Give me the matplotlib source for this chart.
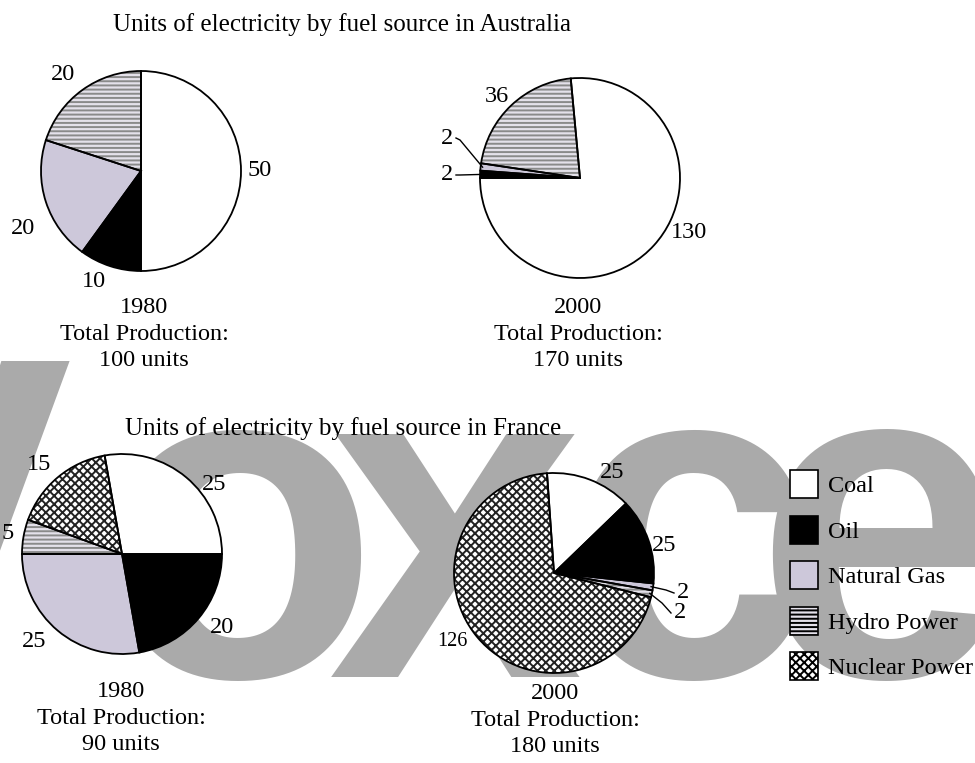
import numpy as np
import matplotlib
matplotlib.use('Agg')
import matplotlib.pyplot as plt
from matplotlib.patches import Patch

plt.rcParams['font.family'] = ['Liberation Serif', 'DejaVu Serif']
plt.rcParams['hatch.linewidth'] = 1.4

# data
sources = ['Coal', 'Oil', 'Natural Gas', 'Hydro Power', 'Nuclear Power']
aus_1980 = [50, 10, 20, 20]
aus_2000 = [130, 2, 2, 36]
fra_1980 = [25, 20, 25, 5, 15]
fra_2000 = [25, 25, 2, 2, 126]
years = ['1980', '2000']

# styles per source
faces = ['white', 'black', '#cdc8da', '#e4e1ea', 'white']
hatch_cols = ['black', 'black', '#cdc8da', '#8a8a8a', '#222222']
hatches = [None, None, None, '----', 'xxxx']

W, H = 975, 763
fig = plt.figure(figsize=(W / 100, H / 100), dpi=100)
fig.patch.set_facecolor('white')


def px(x, y):
    return x / W, 1 - y / H


# watermark, one letter at a time
for ch, x in zip('Voxce', [-80, 238, 455, 688, 882]):
    fig.text(*px(x, 677), ch, fontsize=330, color='#aaaaaa',
             family=['Liberation Sans', 'DejaVu Sans'], weight='bold',
             va='baseline', ha='center', zorder=-1)


def draw_pie(cx, cy, values, start, shifts, fs=17.5, skip=()):
    ax = fig.add_axes([(cx - 150) / W, (H - cy - 150) / H, 300 / W, 300 / H])
    n = len(values)
    w1, _ = ax.pie(values, colors=faces[:n], hatch=hatches[:n], startangle=start,
                   counterclock=False, wedgeprops=dict(linewidth=0))
    for w, hc in zip(w1, hatch_cols):
        w.set_edgecolor(hc)
        w.set_linewidth(0)
    w2, _ = ax.pie(values, colors=['none'] * n, startangle=start, counterclock=False,
                   wedgeprops=dict(linewidth=1.3, edgecolor='black'))
    ax.set_xlim(-1.5, 1.5)
    ax.set_ylim(-1.5, 1.5)
    ax.set_aspect('equal')
    ax.axis('off')
    ax.patch.set_visible(False)
    for i, (w, v) in enumerate(zip(w2, values)):
        if i in skip:
            continue
        da, dist = shifts[i]
        a = np.deg2rad((w.theta1 + w.theta2) / 2 + da)
        ax.text(dist * np.cos(a), dist * np.sin(a), str(v), ha='center', va='center',
                fontsize=fs, clip_on=False)
    return ax, w2


def leader(ax, w, text, label_xy, mid_xy, fs=17.5):
    a = np.deg2rad((w.theta1 + w.theta2) / 2)
    ex, ey = 0.98 * np.cos(a), 0.98 * np.sin(a)
    lx, ly = label_xy
    side = 1 if lx > 0 else -1
    ax.plot([ex, mid_xy[0], lx - side * 0.09], [ey, mid_xy[1], ly], color='black',
            lw=1.0, clip_on=False)
    ax.text(lx, ly, text, ha='center', va='center', fontsize=fs, clip_on=False)


# Australia
fig.text(*px(342, 25), 'Units of electricity by fuel source in Australia',
         ha='center', va='center', fontsize=18)
ax, w = draw_pie(141, 171, aus_1980, 90,
                 [(0, 1.19), (-5, 1.2), (8, 1.31), (3, 1.24)])
ax, w = draw_pie(580, 178, aus_2000, 95.3,
                 [(16, 1.22), (0, 0), (0, 0), (2, 1.16)], skip=(1, 2))
leader(ax, w[2], str(aus_2000[2]), (-1.33, 0.40), (-1.2, 0.38))
leader(ax, w[1], str(aus_2000[1]), (-1.33, 0.03), (-1.2, 0.03))

# France
fig.text(*px(343, 429), 'Units of electricity by fuel source in France',
         ha='center', va='center', fontsize=18)
ax, w = draw_pie(122, 554, fra_1980, 100,
                 [(-13, 1.15), (3.5, 1.24), (-5, 1.24), (0, 1.16), (3, 1.22)])
ax, w = draw_pie(554, 573, fra_2000, 94,
                 [(-9, 1.16), (-5, 1.14), (0, 0), (0, 0), (-6, 1.23)], skip=(2, 3, 4))
a = np.deg2rad((w[4].theta1 + w[4].theta2) / 2 - 6)
ax.text(1.23 * np.cos(a), 1.23 * np.sin(a), str(fra_2000[4]), ha='center', va='center',
        fontsize=14.5)
leader(ax, w[2], str(fra_2000[2]), (1.29, -0.20), (1.12, -0.17))
leader(ax, w[3], str(fra_2000[3]), (1.26, -0.40), (1.08, -0.30))

# captions
for (cx, cy), year, vals in [((144, 334), years[0], aus_1980), ((578, 334), years[1], aus_2000),
                             ((121, 718), years[0], fra_1980), ((555, 720), years[1], fra_2000)]:
    fig.text(*px(cx, cy), f'{year}\nTotal Production:\n{sum(vals)} units',
             ha='center', va='center', fontsize=17.5, linespacing=1.35)

# legend
handles = [Patch(facecolor=f, edgecolor='black', hatch=h, linewidth=1.2)
           for f, h in zip(faces, hatches)]
fig.legend(handles, sources, loc='upper left', bbox_to_anchor=px(790, 470),
           frameon=False, fontsize=17.5, handlelength=1.15, handleheight=1.4,
           handletextpad=0.4, labelspacing=0.72, borderpad=0, borderaxespad=0)

fig.savefig('out.png', dpi=100)
